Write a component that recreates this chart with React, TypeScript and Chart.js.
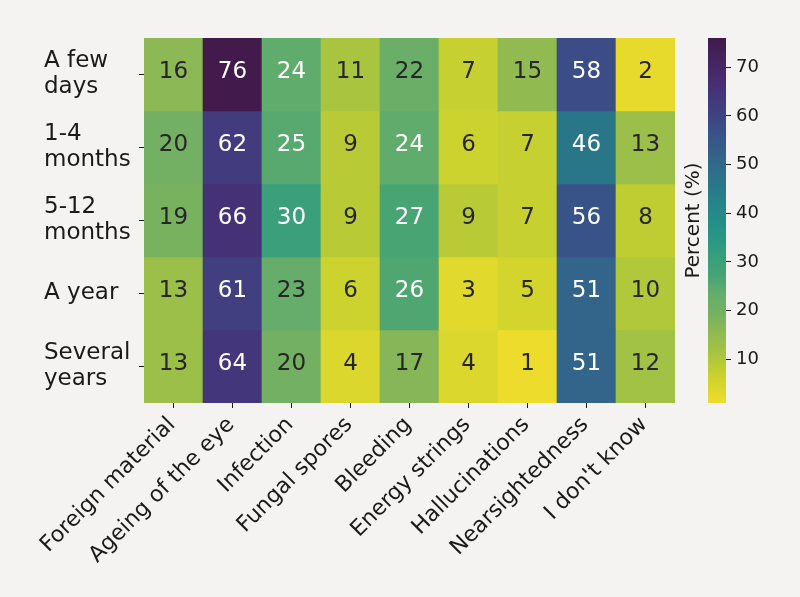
import React, { useEffect, useRef } from "react";
import { Chart, registerables } from "chart.js";

Chart.register(...registerables);

// ---------------- data ----------------
const rowLabels: string[][] = [["A few", "days"], ["1-4", "months"], ["5-12", "months"], ["A year"], ["Several", "years"]];
const colLabels: string[] = [
  "Foreign material",
  "Ageing of the eye",
  "Infection",
  "Fungal spores",
  "Bleeding",
  "Energy strings",
  "Hallucinations",
  "Nearsightedness",
  "I don't know",
];
const rowFewDays = [16, 76, 24, 11, 22, 7, 15, 58, 2];
const rowOneToFourMonths = [20, 62, 25, 9, 24, 6, 7, 46, 13];
const rowFiveToTwelveMonths = [19, 66, 30, 9, 27, 9, 7, 56, 8];
const rowAYear = [13, 61, 23, 6, 26, 3, 5, 51, 10];
const rowSeveralYears = [13, 64, 20, 4, 17, 4, 1, 51, 12];
const rows = [rowFewDays, rowOneToFourMonths, rowFiveToTwelveMonths, rowAYear, rowSeveralYears];
const rowTickValues = [0.5, 1.5, 2.5, 3.5, 4.5];
const colorbarTicks = [10, 20, 30, 40, 50, 60, 70];
const colorMin = 1;
const colorMax = 76;
const colorbarTitle = "Percent (%)";

// ---------------- colours ----------------
const BG = "#f4f3f1";
const INK = "#1a1a1a";
const DARK_TEXT = "#262626";
// viridis (used for the text-colour luminance rule)
const viridisStops = [
  "#440154", "#471365", "#482475", "#463480", "#414487", "#3b528b", "#355f8d",
  "#2f6c8e", "#2a788e", "#25848e", "#21918c", "#1e9c89", "#22a884", "#2fb47c",
  "#44bf70", "#5ec962", "#7ad151", "#9bd93c", "#bddf26", "#dfe318", "#fde725",
];
// viridis as it appears in the (printed) reference
const printedStops = [
  "#421a4b", "#44225c", "#462a6c", "#45347a", "#413f80", "#394f87", "#355c88",
  "#316a89", "#2a7689", "#27828a", "#248d88", "#2a9784", "#379e7d", "#46a374",
  "#64ad6c", "#74b062", "#8cb855", "#a0c146", "#bccc33", "#d6d62c", "#eedc2c",
];
function hexToRgb(h: string): number[] {
  return [parseInt(h.slice(1, 3), 16), parseInt(h.slice(3, 5), 16), parseInt(h.slice(5, 7), 16)];
}
function sample(stops: string[], s: number): number[] {
  const c = Math.min(1, Math.max(0, s)) * (stops.length - 1);
  const i = Math.min(stops.length - 2, Math.floor(c));
  const f = c - i;
  const a = hexToRgb(stops[i]);
  const b = hexToRgb(stops[i + 1]);
  return a.map((v, k) => Math.round(v + (b[k] - v) * f));
}
function frac(v: number): number {
  // reversed colormap: low values -> yellow
  return 1 - (v - colorMin) / (colorMax - colorMin);
}
function rgbStr(c: number[]): string {
  return `rgb(${c[0]},${c[1]},${c[2]})`;
}
function fillFor(v: number): string {
  return rgbStr(sample(printedStops, frac(v)));
}
function textColorFor(v: number): string {
  const lin = sample(viridisStops, frac(v)).map((x) => {
    const s = x / 255;
    return s <= 0.03928 ? s / 12.92 : Math.pow((s + 0.055) / 1.055, 2.4);
  });
  const lum = 0.2126 * lin[0] + 0.7152 * lin[1] + 0.0722 * lin[2];
  return lum > 0.397 ? DARK_TEXT : "#ffffff";
}

const FONT = "'DejaVu Sans', 'Liberation Sans', sans-serif";

const cellLabelPlugin = {
  id: "cellLabels",
  afterDatasetsDraw(chart: any) {
    const ctx = chart.ctx;
    ctx.save();
    ctx.font = `23px ${FONT}`;
    ctx.textAlign = "center";
    ctx.textBaseline = "middle";
    rows.forEach((vals, i) => {
      const meta = chart.getDatasetMeta(i);
      meta.data.forEach((el: any, j: number) => {
        const p = el.getProps(["x", "y", "base"], true);
        ctx.fillStyle = textColorFor(vals[j]);
        ctx.fillText(String(vals[j]), p.x, (p.y + p.base) / 2 - 2);
      });
    });
    ctx.restore();
  },
};

export default function App() {
  const mainRef = useRef<HTMLCanvasElement>(null);
  const cbRef = useRef<HTMLCanvasElement>(null);

  useEffect(() => {
    Chart.defaults.font.family = FONT;
    const tickGrid = {
      drawOnChartArea: false,
      drawTicks: true,
      tickLength: 5,
      color: INK,
      lineWidth: 1,
    };

    const main = new Chart(mainRef.current as HTMLCanvasElement, {
      type: "bar",
      data: {
        labels: colLabels,
        datasets: rows.map((vals, i) => ({
          label: rowLabels[i].join(" "),
          data: vals.map(() => [i, i + 1]),
          backgroundColor: vals.map((v) => fillFor(v)),
          borderWidth: 0,
          barPercentage: 1,
          categoryPercentage: 1,
          grouped: false,
        })) as any,
      },
      options: {
        responsive: false,
        animation: false,
        events: [],
        layout: { padding: { left: 44, right: 125, top: 38, bottom: 0 } },
        plugins: { legend: { display: false }, tooltip: { enabled: false } },
        scales: {
          x: {
            type: "category",
            offset: true,
            grid: { ...tickGrid, offset: false },
            border: { display: false },
            ticks: {
              autoSkip: false,
              maxRotation: 45,
              minRotation: 45,
              color: INK,
              font: { size: 22 },
              padding: 4,
              labelOffset: -1.5,
            },
            afterFit: (s: any) => {
              s.height = 194;
            },
          },
          y: {
            type: "linear",
            min: 0,
            max: 5,
            reverse: true,
            afterBuildTicks: (s: any) => {
              s.ticks = rowTickValues.map((v) => ({ value: v }));
            },
            grid: tickGrid,
            border: { display: false },
            ticks: {
              autoSkip: false,
              callback: (_v: any, i: number) => rowLabels[i],
              crossAlign: "far",
              color: INK,
              font: { size: 23, lineHeight: 1.13 },
              padding: 6,
            },
            afterFit: (s: any) => {
              s.width = 100;
            },
          },
        },
      } as any,
      plugins: [cellLabelPlugin],
    });

    const cb = new Chart(cbRef.current as HTMLCanvasElement, {
      type: "bar",
      data: {
        labels: [colorbarTitle],
        datasets: [
          {
            data: [[colorMin, colorMax]] as any,
            yAxisID: "y",
            borderWidth: 0,
            barPercentage: 1,
            categoryPercentage: 1,
            backgroundColor: (c: any) => {
              const chart = c.chart;
              const ys = chart.scales && chart.scales.y;
              if (!chart.chartArea || !ys) return fillFor(colorMin);
              const g = chart.ctx.createLinearGradient(0, ys.getPixelForValue(colorMin), 0, ys.getPixelForValue(colorMax));
              for (let k = 0; k <= 40; k++) {
                const t = k / 40;
                g.addColorStop(t, rgbStr(sample(printedStops, 1 - t)));
              }
              return g;
            },
          },
        ],
      },
      options: {
        responsive: false,
        animation: false,
        events: [],
        layout: { padding: { left: 0, right: 0, top: 38, bottom: 194 } },
        plugins: { legend: { display: false }, tooltip: { enabled: false } },
        scales: {
          x: { display: false },
          y: {
            type: "linear",
            position: "right",
            min: colorMin,
            max: colorMax,
            afterBuildTicks: (s: any) => {
              s.ticks = colorbarTicks.map((v) => ({ value: v }));
            },
            grid: tickGrid,
            border: { display: false },
            ticks: { color: INK, font: { size: 18 }, padding: 5 },
            afterFit: (s: any) => {
              s.width = 74;
            },
          },
          yTitle: {
            type: "linear",
            position: "left",
            min: colorMin,
            max: colorMax,
            ticks: { display: false },
            grid: { display: false },
            border: { display: false },
            title: {
              display: true,
              text: colorbarTitle,
              color: INK,
              font: { size: 20 },
              padding: { top: 22, bottom: 0 },
            },
            afterFit: (s: any) => {
              s.width = 48;
            },
          },
        },
      } as any,
    });

    return () => {
      main.destroy();
      cb.destroy();
    };
  }, []);

  useEffect(() => {
    document.body.style.margin = "0";
    document.body.style.background = BG;
  }, []);

  return (
    <div style={{ position: "fixed", left: 0, top: 0, width: 800, height: 597, background: BG, overflow: "hidden" }}>
      <canvas
        ref={mainRef}
        width={800}
        height={597}
        style={{ position: "absolute", left: 0, top: 0, width: 800, height: 597 }}
      />
      <canvas
        ref={cbRef}
        width={140}
        height={597}
        style={{ position: "absolute", left: 660, top: 0, width: 140, height: 597 }}
      />
    </div>
  );
}
